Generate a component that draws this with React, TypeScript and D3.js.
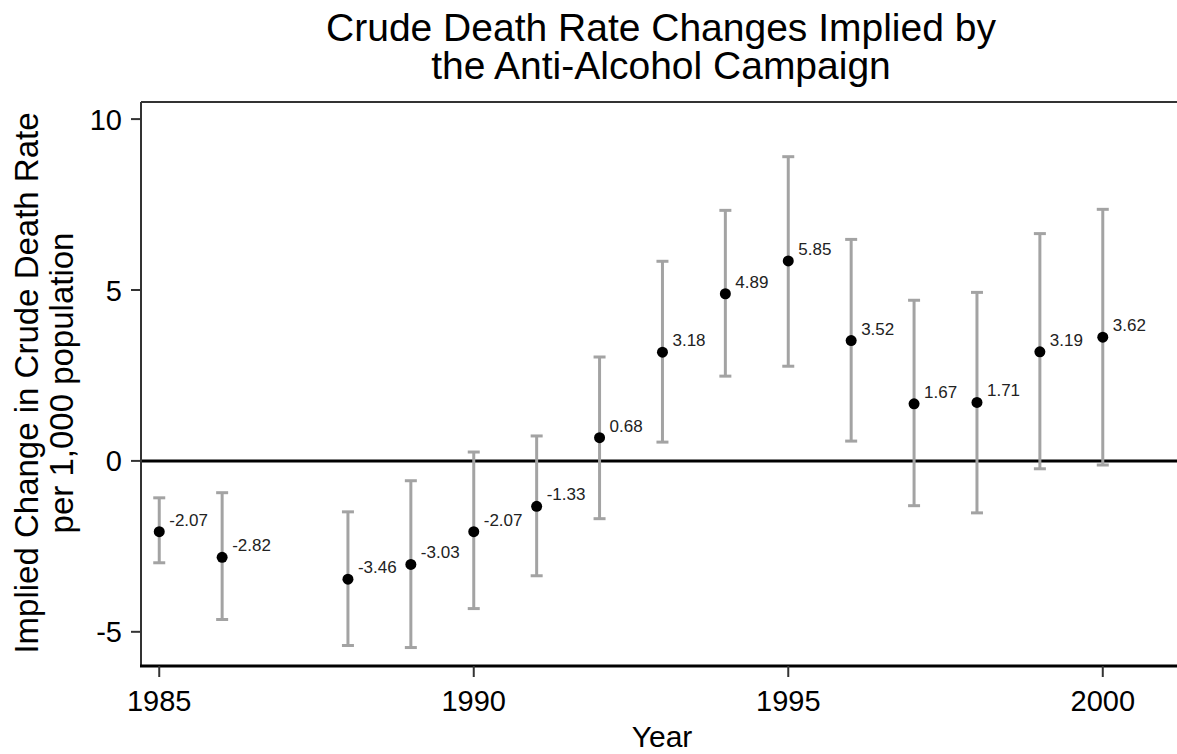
import React from "react";
import * as d3 from "d3";

const years = [1985, 1986, 1988, 1989, 1990, 1991, 1992, 1993, 1994, 1995, 1996, 1997, 1998, 1999, 2000];
const estimates = [-2.07, -2.82, -3.46, -3.03, -2.07, -1.33, 0.68, 3.18, 4.89, 5.85, 3.52, 1.67, 1.71, 3.19, 3.62];
const lower = [-2.98, -4.64, -5.4, -5.46, -4.32, -3.36, -1.69, 0.55, 2.48, 2.77, 0.58, -1.31, -1.52, -0.23, -0.12];
const upper = [-1.08, -0.93, -1.49, -0.58, 0.26, 0.73, 3.04, 5.84, 7.33, 8.9, 6.48, 4.7, 4.93, 6.65, 7.36];
const xTicks = [1985, 1990, 1995, 2000];
const yTicks = [-5, 0, 5, 10];

const titleLines = ["Crude Death Rate Changes Implied by", "the Anti-Alcohol Campaign"];
const yLabelLines = ["Implied Change in Crude Death Rate", "per 1,000 population"];

const W = 1177;
const H = 754;
const plot = { left: 141, top: 102, right: 1177, bottom: 666 };
const font = "'Liberation Sans', Arial, sans-serif";

export default function App() {
  const x = d3.scaleLinear().domain([1984.71, 2001.18]).range([plot.left, plot.right]);
  const y = d3.scaleLinear().domain([-6.0, 10.5]).range([plot.bottom, plot.top]);

  const rows = years.map((yr, i) => ({ yr, est: estimates[i], lo: lower[i], hi: upper[i] }));
  const cx = (plot.left + plot.right) / 2;

  return (
    <svg width={W} height={H} style={{ position: "fixed", left: 0, top: 0, background: "#fff" }} fontFamily={font}>
      {/* title */}
      {titleLines.map((t, i) => (
        <text key={t} x={cx + 2} y={41 + i * 38} textAnchor="middle" fontSize={39} fill="#000">{t}</text>
      ))}

      {/* zero line */}
      <line x1={plot.left} x2={plot.right} y1={y(0)} y2={y(0)} stroke="#000" strokeWidth={3} />

      {/* error bars */}
      {rows.map(d => (
        <g key={"e" + d.yr} stroke="#a3a3a3" strokeWidth={3}>
          <line x1={x(d.yr)} x2={x(d.yr)} y1={y(d.lo)} y2={y(d.hi)} />
          <line x1={x(d.yr) - 6} x2={x(d.yr) + 6} y1={y(d.lo)} y2={y(d.lo)} />
          <line x1={x(d.yr) - 6} x2={x(d.yr) + 6} y1={y(d.hi)} y2={y(d.hi)} />
        </g>
      ))}

      {/* points + labels */}
      {rows.map(d => (
        <g key={"p" + d.yr}>
          <circle cx={x(d.yr)} cy={y(d.est)} r={5.5} fill="#000" />
          <text x={x(d.yr) + 10} y={y(d.est) - 6} fontSize={17} fill="#222">{d.est.toFixed(2)}</text>
        </g>
      ))}

      {/* frame */}
      <line x1={plot.left} x2={plot.right} y1={plot.top} y2={plot.top} stroke="#333" strokeWidth={2} />
      <line x1={plot.left} x2={plot.left} y1={plot.top} y2={plot.bottom} stroke="#333" strokeWidth={2} />
      <line x1={plot.left - 1} x2={plot.right} y1={plot.bottom} y2={plot.bottom} stroke="#000" strokeWidth={3} />

      {/* y axis */}
      {yTicks.map(t => (
        <g key={"y" + t}>
          <line x1={plot.left - 10} x2={plot.left} y1={y(t)} y2={y(t)} stroke="#333" strokeWidth={2} />
          <text x={plot.left - 19} y={y(t) + 10.5} textAnchor="end" fontSize={29} fill="#000">{t}</text>
        </g>
      ))}

      {/* x axis */}
      {xTicks.map(t => (
        <g key={"x" + t}>
          <line x1={x(t)} x2={x(t)} y1={plot.bottom} y2={plot.bottom + 11} stroke="#333" strokeWidth={2} />
          <text x={x(t)} y={711} textAnchor="middle" fontSize={29} fill="#000">{t}</text>
        </g>
      ))}

      <text x={662} y={747} textAnchor="middle" fontSize={30} fill="#000">Year</text>

      {yLabelLines.map((t, i) => (
        <text key={t} transform={`translate(${38 + i * 35},383) rotate(-90)`} textAnchor="middle" fontSize={33} fill="#000">{t}</text>
      ))}
    </svg>
  );
}
